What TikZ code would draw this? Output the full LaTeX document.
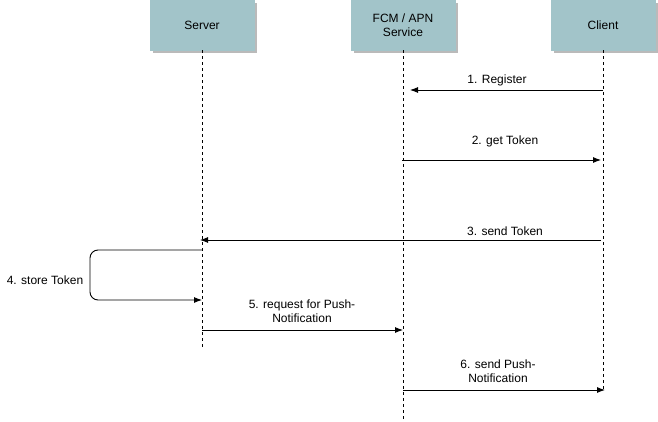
\documentclass[tikz,border=0pt]{standalone}
\usepackage{fontspec}
\setmainfont{Liberation Sans}
\usetikzlibrary{arrows.meta,shadows}
\definecolor{boxfill}{HTML}{A2C4C9}
\definecolor{boxline}{HTML}{A2C4C9}
\begin{document}
\begin{tikzpicture}[x=1pt,y=-1pt,
  actor/.style={draw=boxline,fill=boxfill,minimum width=104pt,minimum height=50pt,inner sep=0pt,align=center,font=\fontsize{12}{14}\selectfont,
    drop shadow={shadow xshift=3pt,shadow yshift=-3pt,fill=black!45,opacity=0.6}},
  life/.style={dashed,dash pattern=on 3pt off 3pt,line width=0.75pt},
  msg/.style={-{Latex[length=8pt,width=6pt]},line width=0.9pt},
  lbl/.style={font=\fontsize{12}{14}\selectfont,align=center,inner sep=0pt}]
\useasboundingbox (0,0) rectangle (658,422);
\node[actor] (server) at (202,25) {Server};
\node[actor] (fcm) at (403,25) {FCM / APN\\Service};
\node[actor] (client) at (603,25) {Client};
\coordinate (sEnd) at (202,348);
\coordinate (fEnd) at (403,420);
\coordinate (cEnd) at (603,392);
\draw[life] (server.south) -- (sEnd);
\draw[life] (fcm.south) -- (fEnd);
\draw[life] (client.south) -- (cEnd);
% 1
\coordinate (c1) at (603,90); \coordinate (f1) at (410,90);
\draw[msg] (c1) -- (f1);
\node[lbl] (l1) at (497,80) {1. Register};
% 2
\coordinate (f2) at (402,160); \coordinate (c2) at (601,160);
\draw[msg] (f2) -- (c2);
\node[lbl] (l2) at (505,141) {2. get Token};
% 3
\coordinate (c3) at (601,240); \coordinate (s3) at (200,240);
\draw[msg] (c3) -- (s3);
\node[lbl] (l3) at (505,231) {3. send Token};
% 4
\coordinate (s4a) at (202,250); \coordinate (s4b) at (202,300);
\draw[msg,rounded corners=8pt] (s4a) -- (90,250) -- (90,300) -- (s4b);
\node[lbl] (l4) at (45,280) {4. store Token};
% 5
\coordinate (s5) at (202,330); \coordinate (f5) at (403,330);
\draw[msg] (s5) -- (f5);
\node[lbl] (l5) at (302,311) {5. request for Push-\\Notification};
% 6
\coordinate (f6) at (403,390); \coordinate (c6) at (605,390);
\draw[msg] (f6) -- (c6);
\node[lbl] (l6) at (498,371) {6. send Push-\\Notification};
\end{tikzpicture}
\end{document}
